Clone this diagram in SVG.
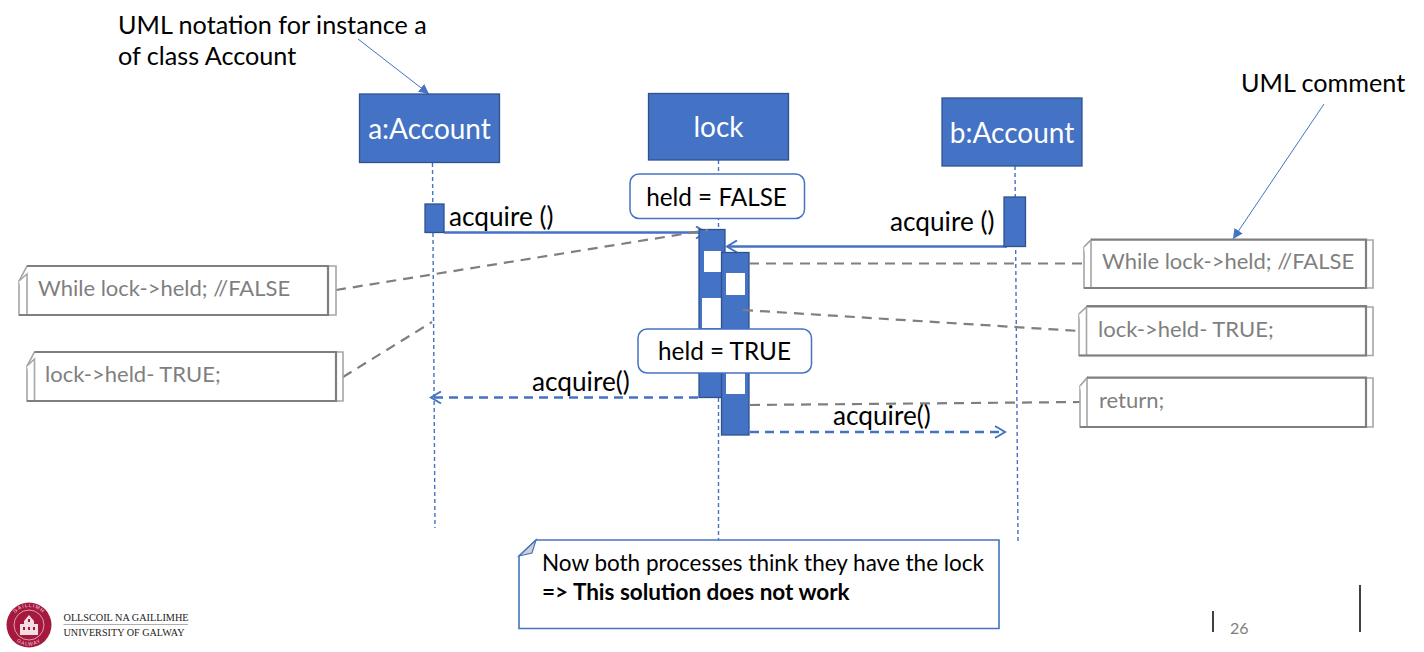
<svg xmlns="http://www.w3.org/2000/svg" width="1424" height="652" viewBox="0 0 1424 652">
<style>
text{font-family:"Lato","Open Sans","Liberation Sans",sans-serif;fill:#000}
.actor rect{fill:#4472c4;stroke:#2f528f;stroke-width:1.3}
.actor text{fill:#fff;font-size:28px;text-anchor:middle}
.life{stroke:#4472c4;stroke-width:1.4;stroke-dasharray:4 3;fill:none}
.msg{stroke:#4472c4;stroke-width:2.4;fill:none}
.dash{stroke-dasharray:9 6}
.gd{stroke:#7f7f7f;stroke-width:2.2;stroke-dasharray:10 7;fill:none}
.thin{stroke:#4472c4;stroke-width:1;fill:none}
.bar{fill:#4472c4;stroke:#2f528f;stroke-width:1.3}
.w{fill:#fff}
.note .back{fill:#fff;stroke:#a6a6a6;stroke-width:1.6}
.note .front{fill:none;stroke:#7f7f7f;stroke-width:2.2}
.note text{fill:#7f7f7f;font-size:22px}
.state rect{fill:#fff;stroke:#4472c4;stroke-width:1.5}
.state text{font-size:24.3px;text-anchor:middle}
.lbl{font-size:26.2px}
.top{font-size:25.2px}
.main{font-size:22.5px}
.logo{font-family:"Liberation Serif",serif;fill:#222;font-size:11px}
.ring{font-family:"Liberation Sans",sans-serif;fill:#f3dde3;font-size:5px;letter-spacing:1px}
</style>
<defs>
<marker id="open" markerWidth="14" markerHeight="14" refX="12" refY="7" orient="auto" markerUnits="userSpaceOnUse"><path d="M2 1L12 7L2 13" fill="none" stroke="#4472c4" stroke-width="2"/></marker>
<marker id="tri" markerWidth="12" markerHeight="12" refX="10" refY="5" orient="auto" markerUnits="userSpaceOnUse"><path d="M0 0L10 5L0 10Z" fill="#4472c4"/></marker>
<path id="arcTop" d="M11 625A18 18 0 0 1 47 625"/>
<path id="arcBottom" d="M8.500 625A20.500 20.500 0 0 0 49.500 625"/>
</defs>

<g id="connectors">
<path class="life" d="M432.500 163L435 528"/>
<path class="life" d="M718.500 160V540"/>
<path class="life" d="M1015 166L1018 541"/>
<path class="thin" d="M358 39L429 94" marker-end="url(#tri)"/>
<path class="thin" d="M1324 104L1233 239" marker-end="url(#tri)"/>
<path class="msg" d="M444 232.500H706" marker-end="url(#open)"/>
<path class="msg" d="M1007 246.500H727" marker-end="url(#open)"/>
<path class="msg dash" d="M698 397.500H431" marker-end="url(#open)"/>
<path class="msg dash" d="M750 432H1005" marker-end="url(#open)"/>
</g>

<g id="actor-a" class="actor"><rect x="359.500" y="94" width="140" height="68.500"/><text x="429.500" y="139">a:Account</text></g>
<g id="actor-lock" class="actor"><rect x="648.500" y="93.500" width="140" height="66.500"/><text x="718.500" y="137">lock</text></g>
<g id="actor-b" class="actor"><rect x="942" y="98" width="140" height="68"/><text x="1012" y="143">b:Account</text></g>

<g id="activation-a"><rect class="bar" x="425" y="204" width="19" height="28.500"/></g>
<g id="activation-b"><rect class="bar" x="1004" y="197" width="21.500" height="49.500"/></g>
<g id="activation-lock-1">
<rect class="bar" x="699" y="229.500" width="26" height="168"/>
<rect class="w" x="704" y="251" width="17" height="21"/>
<rect class="w" x="702" y="298" width="19" height="30"/>
</g>
<g id="activation-lock-2">
<rect class="bar" x="721.500" y="252.500" width="27.500" height="182.500"/>
<rect class="w" x="726" y="273" width="19" height="22"/>
<rect class="w" x="726" y="372" width="19" height="22"/>
</g>

<g id="guards">
<path class="gd" d="M336 290L708 230"/>
<path class="gd" d="M343 377L432 322"/>
<path class="gd" d="M749 263.500H1084"/>
<path class="gd" d="M743 310L1079 331"/>
<path class="gd" d="M750 405L1080 402"/>
</g>

<g id="state-false" class="state"><rect x="630" y="174" width="174.500" height="44.500" rx="9"/><text x="716.500" y="206">held = FALSE</text></g>
<g id="state-true" class="state"><rect x="638" y="329" width="173.500" height="44" rx="9"/><text x="724.500" y="360">held = TRUE</text></g>

<text class="lbl" x="449" y="226">acquire ()</text>
<text class="lbl" x="890" y="231">acquire ()</text>
<text class="lbl" x="532" y="391">acquire()</text>
<text class="lbl" x="833" y="425">acquire()</text>

<text class="top" x="118" y="34">UML notation for instance a</text>
<text class="top" x="118" y="65">of class Account</text>
<text class="top" x="1241" y="92">UML comment</text>

<g id="note-l1" class="note">
<path class="back" d="M27 266H336V315H19V281Z"/>
<path class="back" d="M19 281L27 274V315"/>
<path class="front" d="M27 266H328V315H19"/>
<text x="38" y="296">While lock-&gt;held; //FALSE</text></g>
<g id="note-l2" class="note">
<path class="back" d="M34.500 352H343V401H27V366Z"/>
<path class="back" d="M27 366L34.500 359V401"/>
<path class="front" d="M34.500 352H336V401H27"/>
<text x="45" y="382">lock-&gt;held- TRUE;</text></g>
<g id="note-r1" class="note">
<path class="back" d="M1091 240H1373V288H1084V247Z"/>
<path class="back" d="M1084 247L1091 240V288"/>
<path class="front" d="M1091 239.500H1366V288H1084"/>
<text x="1102" y="269">While lock-&gt;held; //FALSE</text></g>
<g id="note-r2" class="note">
<path class="back" d="M1086.500 307H1373V355.500H1079V314Z"/>
<path class="back" d="M1079 314L1086.500 307V355.500"/>
<path class="front" d="M1086.500 306H1366V355.500H1079"/>
<text x="1098" y="337">lock-&gt;held- TRUE;</text></g>
<g id="note-r3" class="note">
<path class="back" d="M1087 378H1373V427H1080V386Z"/>
<path class="back" d="M1080 386L1087 378V427"/>
<path class="front" d="M1087 377.500H1366V427H1080"/>
<text x="1099" y="408">return;</text></g>

<g id="note-main">
<path d="M536 540H999V628.500H519V556Z" fill="#fff" stroke="#4472c4" stroke-width="1.600"/>
<path d="M519 556L536 540L532 553Z" fill="#d0d0d0" stroke="#4472c4" stroke-width="1.200"/>
<text class="main" x="542" y="571">Now both processes think they have the lock</text>
<text class="main" x="542" y="600" font-weight="700">=&gt; This solution does not work</text>
</g>

<g id="logo">
<circle cx="29" cy="625" r="22.500" fill="#a6193e"/>
<circle cx="29" cy="625" r="15" fill="none" stroke="#e8c0cb" stroke-width="0.800"/>
<path d="M20 635V624H24V621L29 615L34 621V624H38V635Z" fill="#f3dde3"/>
<path d="M23 627h2v3h-2zM28 627h2v3h-2zM33 627h2v3h-2zM28 619h2v3h-2z" fill="#a6193e"/>
<text class="ring" text-anchor="middle"><textPath href="#arcTop" startOffset="50%">GAILLIMH</textPath></text>
<text class="ring" text-anchor="middle"><textPath href="#arcBottom" startOffset="50%">GALWAY</textPath></text>
<text class="logo" x="63.500" y="620.500" textLength="125" lengthAdjust="spacingAndGlyphs">OLLSCOIL NA GAILLIMHE</text>
<path d="M63.500 624.500H188" stroke="#999" stroke-width="0.800"/>
<text class="logo" x="63.500" y="636" textLength="121" lengthAdjust="spacingAndGlyphs">UNIVERSITY OF GALWAY</text>
</g>

<g id="footer">
<path d="M1213 611V632M1360 585V632" stroke="#000" stroke-width="1.500"/>
<text x="1230" y="634" font-size="16" style="fill:#7f7f7f">26</text>
</g>
</svg>
